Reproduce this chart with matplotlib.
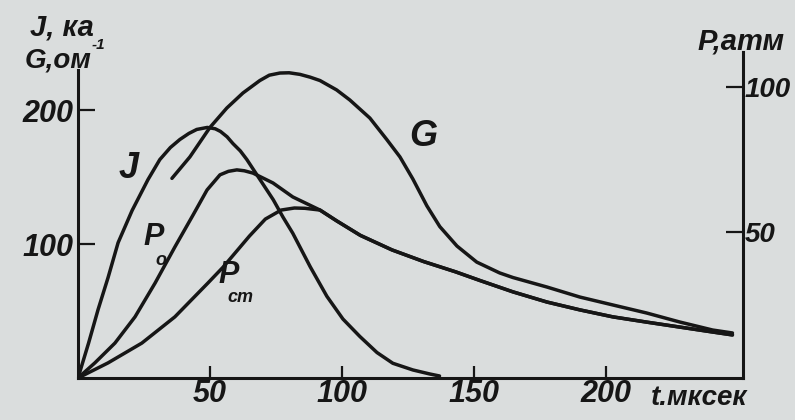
import matplotlib
matplotlib.use("Agg")
import matplotlib.pyplot as plt
from matplotlib.transforms import blended_transform_factory

# ---- data ----
t_J = [0, 4, 7.6, 11.4, 15.2, 20.5, 26.5, 31, 35, 38.6, 42, 45, 49, 52, 54, 56.5, 58.7, 61.5, 64, 69, 74, 77.7, 81.4,
       88, 94.3, 100.4, 106.8, 113.3, 119.3, 126.9, 133.3, 137]
J = [0, 26, 51, 75, 101, 125, 148, 163, 172, 178, 182.5, 185.5, 187, 186, 184, 180, 175, 169.5, 163, 148, 133, 120, 108,
     83, 61, 44, 31, 19, 11, 6, 3, 1.5]

t_G = [35.6, 42.4, 50, 56.4, 62.5, 68.9, 72.5, 76.5, 80, 84.1, 88, 91.7, 98, 103, 110.6, 117, 122, 126.9,
       132.2, 137.1, 143.6, 151.1, 159.8, 164.8, 177.7, 190.2, 202.7, 215.5, 228, 240.5, 248]
G = [149, 165, 187, 201.5, 212.7, 222, 226, 227.6, 227.8, 226.6, 224.5, 222, 215, 207.5, 194, 178, 165, 148.5,
     128.5, 113, 98.5, 86.5, 78.4, 75, 67.9, 60.4, 54.5, 48.5, 41.8, 35.8, 33.6]

t_Po = [0, 6.4, 14, 21.6, 29.2, 36.7, 43.6, 48.9, 53.8, 57, 60.2, 63, 66.3, 73.9, 81.4, 91.7, 98,
        107, 119, 131, 143, 152.3, 164.8, 177.7, 190.2, 202.7, 215.5, 228, 240.5, 248]
P_o = [0, 5.2, 12, 21, 32.6, 45, 56, 64.6, 69.8, 71, 71.5, 71.2, 70.4, 67, 62.2, 57.7, 54,
       49, 44, 40, 36.5, 33.5, 29.6, 26.1, 23.4, 21, 19.2, 17.5, 15.8, 14.8]

t_Pc = [0, 11.4, 24.2, 36.7, 49.2, 55, 65, 71, 77, 82, 86, 91.7, 98,
        107, 119, 131, 143, 152.3, 164.8, 177.7, 190.2, 202.7, 215.5, 228, 240.5, 248]
P_c = [0, 5.2, 12, 21, 32.6, 38.1, 48.8, 54.6, 57.7, 58.4, 58.3, 57.7, 54,
       49, 44, 40, 36.5, 33.5, 29.6, 26.1, 23.4, 21, 19.2, 17.5, 15.8, 14.8]

x_ticks = [50, 100, 150, 200]
left_ticks = [100, 200]
right_ticks = [50, 100]

# ---- style ----
BG = "#dadddd"
INK = "#161616"
FONT = ["Liberation Sans", "DejaVu Sans"]
LW = 2.5

fig = plt.figure(figsize=(7.95, 4.2), dpi=100, facecolor=BG)
ax = fig.add_axes([78 / 795, 42 / 420, 665 / 795, 326 / 420])
ax.set_facecolor(BG)
ax2 = ax.twinx()

ax.set_xlim(0, 252)
ax.set_ylim(0, 243.3)
ax2.set_ylim(0, 112)

kw = dict(color=INK, lw=LW, solid_capstyle="round", solid_joinstyle="round")
ax.plot(t_J, J, **kw)
ax.plot(t_G, G, **kw)
ax2.plot(t_Po, P_o, **kw)
ax2.plot(t_Pc, P_c, **kw)

for a in (ax, ax2):
    a.spines["top"].set_visible(False)
    for s in a.spines.values():
        s.set_linewidth(2.2)
        s.set_color(INK)
ax2.spines["left"].set_visible(False)
ax2.spines["bottom"].set_visible(False)
ax.spines["right"].set_visible(False)
ax.spines["left"].set_bounds(0, 230)

tick_font = dict(family=FONT, style="italic", weight="bold", size=22)
rtick_font = dict(family=FONT, style="italic", weight="bold", size=20)

ax.set_xticks(x_ticks)
ax.set_xticklabels([str(v) for v in x_ticks], fontdict=tick_font, color=INK)
ax.set_yticks(left_ticks)
ax.set_yticklabels([str(v) for v in left_ticks], fontdict=tick_font, color=INK)
ax2.set_yticks(right_ticks)
ax2.set_yticklabels([str(v) for v in right_ticks], fontdict=rtick_font, color=INK)

ax.tick_params(axis="x", direction="in", length=9, width=1.6, pad=1, colors=INK)
ax.tick_params(axis="y", direction="in", length=12, width=1.6, pad=3, colors=INK)
ax2.tick_params(axis="y", direction="in", length=12, width=1.6, pad=1, colors=INK)

lab = dict(family=FONT, style="italic", weight="bold", color=INK)

tr = blended_transform_factory(ax.transData, ax.transAxes)
ax.text(217, -0.02, "t.мксек", transform=tr, ha="left", va="top", fontsize=20, **lab)

fig.text(30 / 795, 1 - 27 / 420, "J, ка", ha="left", va="center", fontsize=21, **lab)
fig.text(25 / 795, 1 - 61 / 420, "G,ом", ha="left", va="center", fontsize=20, **lab)
fig.text(92 / 795, 1 - 45 / 420, "-1", ha="left", va="center", fontsize=11, **lab)
fig.text(697 / 795, 1 - 42 / 420, "P,атм", ha="left", va="center", fontsize=21, **lab)

ax.text(19, 156, "J", ha="center", va="center", fontsize=26, **lab)
ax.text(28.5, 105, "P", ha="center", va="center", fontsize=22, **lab)
ax.text(31.5, 88, "о", ha="center", va="center", fontsize=13, **lab)
ax.text(57, 77, "P", ha="center", va="center", fontsize=22, **lab)
ax.text(61.5, 60, "ст", ha="center", va="center", fontsize=13, **lab)
ax.text(131, 180, "G", ha="center", va="center", fontsize=26, **lab)

fig.savefig("out.png", dpi=100, facecolor=BG)
